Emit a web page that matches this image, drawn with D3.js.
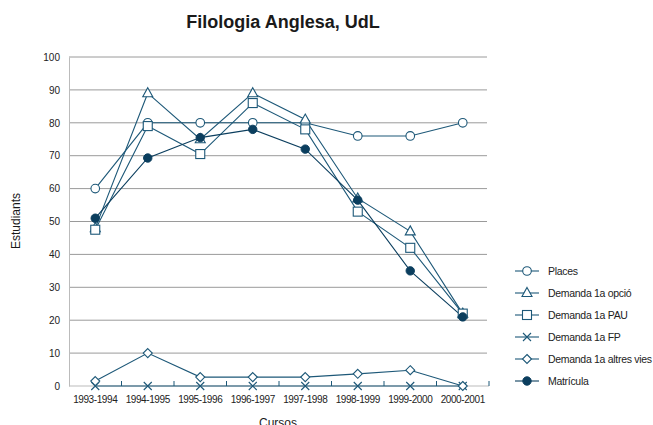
<!DOCTYPE html>
<html>
<head>
<meta charset="utf-8">
<script src="https://cdn.jsdelivr.net/npm/d3@7"></script>
<style>
  body { margin: 0; background: #fff; }
  svg { font-family: "Liberation Sans", Arial, sans-serif; }
</style>
</head>
<body>
<svg id="chart" width="653" height="425"></svg>
<script>
// chart data
const cursos = ["1993-1994", "1994-1995", "1995-1996", "1996-1997", "1997-1998", "1998-1999", "1999-2000", "2000-2001"];
const places = [60, 80, 80, 80, 80, 76, 76, 80];
const demandaOpcio = [48, 89, 75, 89, 81, 57, 47, 22];
const demandaPAU = [47.5, 79, 70.5, 86, 78, 53, 42, 22];
const demandaFP = [0, 0, 0, 0, 0, 0, 0, 0];
const demandaAltres = [1.5, 10, 2.7, 2.7, 2.7, 3.7, 4.8, 0];
const matricula = [51, 69.3, 75.5, 78, 72, 56.5, 35, 21];
const yTicks = [0, 10, 20, 30, 40, 50, 60, 70, 80, 90, 100];

const seriesList = [
    { name: "Places", values: places, shape: "circle" },
    { name: "Demanda 1a opció", values: demandaOpcio, shape: "triangle" },
    { name: "Demanda 1a PAU", values: demandaPAU, shape: "square" },
    { name: "Demanda 1a FP", values: demandaFP, shape: "cross" },
    { name: "Demanda 1a altres vies", values: demandaAltres, shape: "diamond" },
    { name: "Matrícula", values: matricula, shape: "dot" }
];

const lineColor = "#1d5878";
const darkColor = "#0b3e5e";

const svg = d3.select("svg#chart");
const plot = { left: 69, right: 489, top: 57, bottom: 386 };

const x = d3.scaleBand().domain(cursos).range([plot.left, plot.right]);
const y = d3.scaleLinear().domain([0, 100]).range([plot.bottom, plot.top]);
const cx = (i) => x(cursos[i]) + x.bandwidth() / 2;

// title
svg.append("text")
    .attr("x", 283).attr("y", 28)
    .attr("text-anchor", "middle")
    .attr("font-size", 18).attr("font-weight", "bold")
    .attr("fill", "#1a1a1a")
    .text("Filologia Anglesa, UdL");

// gridlines
svg.append("g").selectAll("line")
    .data(yTicks.filter(t => t > 0))
    .join("line")
    .attr("x1", plot.left).attr("x2", plot.right - 2)
    .attr("y1", d => y(d)).attr("y2", d => y(d))
    .attr("stroke", "#9a9a9a").attr("stroke-width", 1);

// y axis
const yAxis = svg.append("g")
    .attr("transform", `translate(${plot.left},0)`)
    .call(d3.axisLeft(y).tickValues(yTicks).tickSize(0).tickPadding(9));
yAxis.select(".domain").attr("stroke", "#bbb");
yAxis.selectAll("text").attr("font-size", 10).attr("fill", "#222")
    .attr("font-family", "Liberation Sans, Arial, sans-serif");

// x axis
svg.append("line")
    .attr("x1", plot.left).attr("x2", plot.right)
    .attr("y1", plot.bottom).attr("y2", plot.bottom)
    .attr("stroke", "#bbb");
svg.append("g").selectAll("line")
    .data(cursos.slice(1).concat(["end"]))
    .join("line")
    .attr("x1", (d, i) => plot.left + (i + 1) * x.bandwidth())
    .attr("x2", (d, i) => plot.left + (i + 1) * x.bandwidth())
    .attr("y1", plot.bottom - 5).attr("y2", plot.bottom)
    .attr("stroke", lineColor);
svg.append("g").selectAll("text")
    .data(cursos)
    .join("text")
    .attr("x", d => x(d) + x.bandwidth() / 2)
    .attr("y", plot.bottom + 17)
    .attr("text-anchor", "middle")
    .attr("font-size", 10).attr("letter-spacing", -0.4)
    .attr("fill", "#222")
    .text(d => d);

// axis titles
svg.append("text")
    .attr("transform", "translate(20,221) rotate(-90)")
    .attr("text-anchor", "middle")
    .attr("font-size", 12).attr("fill", "#1a1a1a")
    .text("Estudiants");
svg.append("text")
    .attr("x", 278).attr("y", 427)
    .attr("text-anchor", "middle")
    .attr("font-size", 12).attr("fill", "#1a1a1a")
    .text("Cursos");

// marker drawing
function drawMarker(g, shape, px, py) {
    if (shape === "circle") {
        g.append("circle").attr("cx", px).attr("cy", py).attr("r", 4.3)
            .attr("fill", "#fff").attr("stroke", lineColor).attr("stroke-width", 1.1);
    } else if (shape === "dot") {
        g.append("circle").attr("cx", px).attr("cy", py).attr("r", 4.2)
            .attr("fill", darkColor).attr("stroke", darkColor);
    } else if (shape === "triangle") {
        g.append("path").attr("d", `M${px},${py - 5.5}L${px + 5},${py + 3.5}L${px - 5},${py + 3.5}Z`)
            .attr("fill", "#fff").attr("stroke", lineColor).attr("stroke-width", 1.1);
    } else if (shape === "square") {
        g.append("rect").attr("x", px - 4.5).attr("y", py - 4.5).attr("width", 9).attr("height", 9)
            .attr("fill", "#fff").attr("stroke", lineColor).attr("stroke-width", 1.1);
    } else if (shape === "diamond") {
        g.append("path").attr("d", `M${px},${py - 4.5}L${px + 4.5},${py}L${px},${py + 4.5}L${px - 4.5},${py}Z`)
            .attr("fill", "#fff").attr("stroke", lineColor).attr("stroke-width", 1.1);
    } else if (shape === "cross") {
        g.append("path").attr("d", `M${px - 4},${py - 4}L${px + 4},${py + 4}M${px - 4},${py + 4}L${px + 4},${py - 4}`)
            .attr("stroke", lineColor).attr("stroke-width", 1.1);
    }
}

// series lines and markers
const line = d3.line().x((d, i) => cx(i)).y(d => y(d));
seriesList.forEach(s => {
    svg.append("path")
        .attr("d", line(s.values))
        .attr("fill", "none")
        .attr("stroke", s.shape === "dot" ? darkColor : lineColor)
        .attr("stroke-width", 1.1);
});
seriesList.forEach(s => {
    const g = svg.append("g");
    s.values.forEach((v, i) => drawMarker(g, s.shape, cx(i), y(v)));
});

// legend
const legend = svg.append("g");
seriesList.forEach((s, i) => {
    const ly = 271 + i * 22;
    legend.append("line")
        .attr("x1", 515).attr("x2", 539).attr("y1", ly).attr("y2", ly)
        .attr("stroke", s.shape === "dot" ? darkColor : lineColor).attr("stroke-width", 1.1);
    drawMarker(legend, s.shape, 527, ly);
    legend.append("text")
        .attr("x", 548).attr("y", ly + 4)
        .attr("font-size", 10.5).attr("letter-spacing", -0.3)
        .attr("fill", "#222")
        .text(s.name);
});
</script>
</body>
</html>
